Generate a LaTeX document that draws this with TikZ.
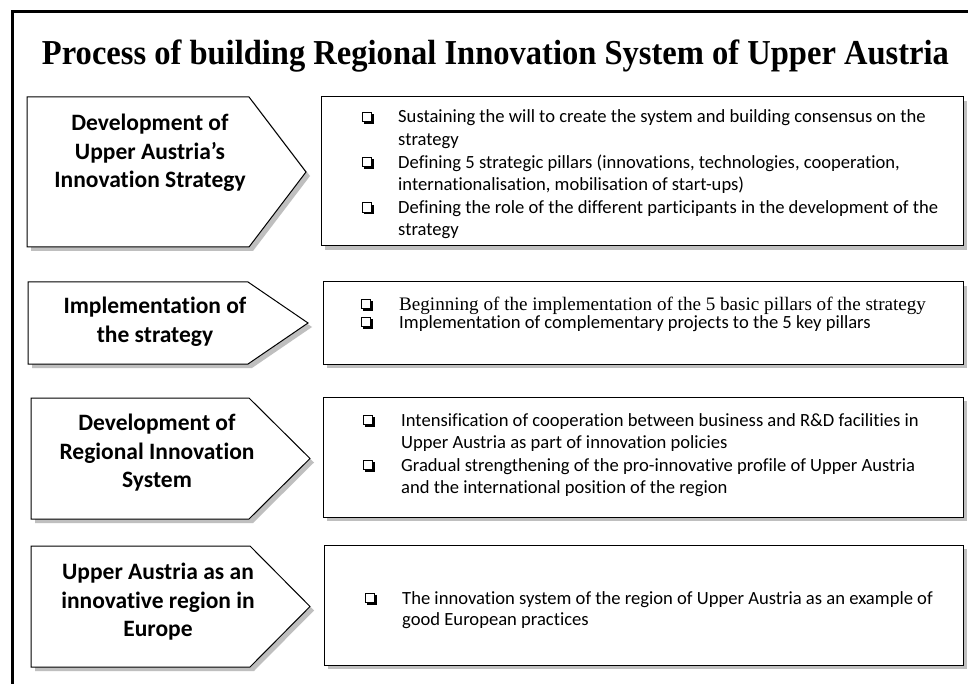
\documentclass[tikz,border=0pt]{standalone}
\usepackage{fontspec}
\usepackage{graphicx}
\usetikzlibrary{shadows}
\setmainfont{Carlito}[Ligatures={NoCommon}]
\newfontfamily\titlefont{Liberation Serif}
\newfontfamily\tnrfont{Liberation Serif}

\tikzset{
  shad/.style={fill=black!25, draw=none},
  shapeline/.style={draw=black, line width=1pt, fill=white},
  lbl/.style={align=center, inner sep=0pt, font=\fontsize{23.5}{28.5}\selectfont\bfseries},
  itm/.style={anchor=base west, inner sep=0pt, font=\fontsize{18.6}{22.6}\selectfont},
  chkbox/.style={draw=black, line width=0.8pt, fill=white, minimum size=9.4pt, inner sep=0pt,
    anchor=south west, drop shadow={shadow xshift=2pt, shadow yshift=-2pt, fill=black, opacity=1}},
}

\newcommand\mychev[5]{%
  \fill[shad] ({#1+4},{#2+4}) -- ({#4+4},{#2+4}) -- ({#5+4},{(#2+#3)/2+4}) -- ({#4+4},{#3+4}) -- ({#1+4},{#3+4}) -- cycle;
  \draw[shapeline] (#1,#2) -- (#4,#2) -- (#5,{(#2+#3)/2}) -- (#4,#3) -- (#1,#3) -- cycle;}
\newcommand\mybox[4]{%
  \fill[shad] ({#1+4},{#2+4}) rectangle ({#3+4},{#4+4});
  \draw[shapeline] (#1,#2) rectangle (#3,#4);}

\begin{document}
\begin{tikzpicture}[x=1pt,y=-1pt]
\useasboundingbox (0,0) rectangle (968,684);
\fill[white] (0,0) rectangle (968,684);
% outer frame
\draw[line width=3pt] (12,690) -- (12,12) -- (975,12);

% title
\node[anchor=base, inner sep=0pt] (title) at (495.5,65)
  {\resizebox{907pt}{\height}{\titlefont\bfseries\fontsize{35}{38}\selectfont Process of building Regional Innovation System of Upper Austria}};

% chevrons
\mychev{27}{97}{247}{249}{306}
\mychev{28}{282}{364}{248}{308}
\mychev{31}{398}{519}{249}{310}
\mychev{31}{546}{667}{250}{310}

% boxes
\mybox{321}{97}{963}{246}
\mybox{323}{282}{963}{364}
\mybox{323}{397}{963}{517}
\mybox{324}{545}{963}{665}

% chevron labels
\node[lbl] (c1) at (150,153) {Development of\\Upper Austria’s\\Innovation Strategy};
\node[lbl] (c2) at (155,321.5) {Implementation of\\the strategy};
\node[lbl] (c3) at (157,453) {Development of\\Regional Innovation\\System};
\node[lbl] (c4) at (158,602) {Upper Austria as an\\innovative region in\\Europe};

% box 1
\node[chkbox] (k11) at (362,122) {};
\node[itm] (t11a) at (398,123) {Sustaining the will to create the system and building consensus on the};
\node[itm] (t11b) at (398,145.6) {strategy};
\node[chkbox] (k12) at (362,167.2) {};
\node[itm] (t12a) at (398,168.2) {Defining 5 strategic pillars (innovations, technologies, cooperation,};
\node[itm] (t12b) at (398,190.8) {internationalisation, mobilisation of start-ups)};
\node[chkbox] (k13) at (362,212.4) {};
\node[itm] (t13a) at (398,213.4) {Defining the role of the different participants in the development of the};
\begin{scope}
\clip (321,97) rectangle (963,241);
\node[itm] (t13b) at (398,236) {strategy};
\end{scope}

% box 2
\node[chkbox] (k21) at (361,309) {};
\node[itm, font=\tnrfont\fontsize{19.1}{22.6}\selectfont] (t21) at (399,310) {Beginning of the implementation of the 5 basic pillars of the strategy};
\node[chkbox] (k22) at (361,327) {};
\node[itm] (t22) at (399,328) {Implementation of complementary projects to the 5 key pillars};

% box 3
\node[chkbox] (k31) at (363,425) {};
\node[itm] (t31a) at (401,426) {Intensification of cooperation between business and R\&D facilities in};
\node[itm] (t31b) at (401,448.6) {Upper Austria as part of innovation policies};
\node[chkbox] (k32) at (363,470.2) {};
\node[itm] (t32a) at (401,471.2) {Gradual strengthening of the pro-innovative profile of Upper Austria};
\node[itm] (t32b) at (401,493.8) {and the international position of the region};

% box 4
\node[chkbox] (k41) at (365,603) {};
\node[itm] (t41a) at (402,604) {The innovation system of the region of Upper Austria as an example of};
\node[itm] (t41b) at (402,625) {good European practices};
\end{tikzpicture}
\end{document}
